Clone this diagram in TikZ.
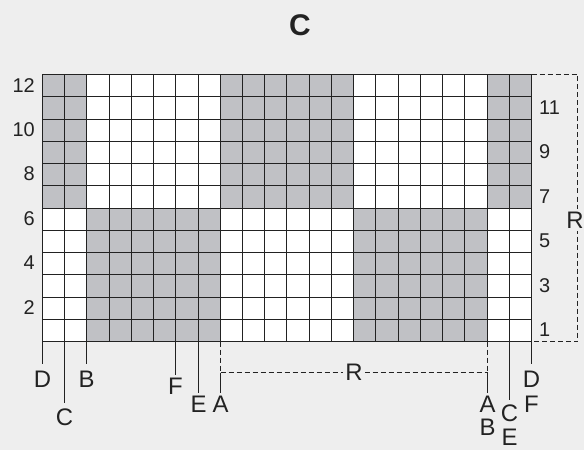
\documentclass[tikz,border=0pt]{standalone}
\usepackage{fontspec}
\setmainfont{Liberation Sans}
\usetikzlibrary{calc}
\definecolor{bg}{HTML}{EEEEEE}
\definecolor{cellgray}{HTML}{C0C1C5}
\definecolor{ink}{HTML}{222222}
\begin{document}
\begin{tikzpicture}[x=1bp,y=-1bp,
  gridline/.style={ink,line width=1.6bp},
  tick/.style={ink,line width=1.3bp},
  dashline/.style={ink,line width=1.2bp,dash pattern=on 5bp off 3bp},
  lab/.style={text=ink,font=\fontsize{24}{24}\selectfont,inner sep=0pt},
  num/.style={text=ink,font=\fontsize{20}{20}\selectfont,inner sep=0pt},
  ttl/.style={text=ink,font=\fontsize{30}{30}\selectfont\bfseries,inner sep=0pt},
]
\fill[bg] (0,0) rectangle (584,450);
\useasboundingbox (0,0) rectangle (584,450);
\def\cw{22.227}
\def\ch{22.25}
% snapped column / row positions
\foreach \i in {0,...,22}{
  \pgfmathsetmacro\xx{round(42+\i*\cw)+0.5}
  \coordinate (X\i) at (\xx,0);
}
\foreach \j in {0,...,12}{
  \pgfmathsetmacro\yy{round(74+\j*\ch)+0.5}
  \coordinate (Y\j) at (0,\yy);
}
% cells
\fill[white] (X0|-Y0) rectangle (X22|-Y12);
\fill[cellgray] (X0|-Y0) rectangle (X2|-Y6);
\fill[cellgray] (X8|-Y0) rectangle (X14|-Y6);
\fill[cellgray] (X20|-Y0) rectangle (X22|-Y6);
\fill[cellgray] (X2|-Y6) rectangle (X8|-Y12);
\fill[cellgray] (X14|-Y6) rectangle (X20|-Y12);
% grid lines
\foreach \i in {0,...,22}{
  \draw[gridline] (X\i|-Y0) -- (X\i|-Y12);
}
\foreach \j in {0,...,12}{
  \draw[gridline] (X0|-Y\j) -- (X22|-Y\j);
}
% title
\node[ttl] (title) at (300,25) {C};
% row numbers
\foreach \r in {2,4,...,12}{
  \node[num,anchor=east] (rl\r) at (35,{341-(\r-0.5)*\ch}) {\r};
}
\foreach \r in {1,3,...,11}{
  \node[num,anchor=west] (rr\r) at (539,{341-(\r-0.5)*\ch}) {\r};
}
% bottom tick coordinates
\coordinate (tD1) at (X0|-Y12);
\coordinate (tC1) at (X1|-Y12);
\coordinate (tB1) at (X2|-Y12);
\coordinate (tF1) at (X6|-Y12);
\coordinate (tE1) at (X7|-Y12);
\coordinate (tA1) at (X8|-Y12);
\coordinate (tA2) at (X20|-Y12);
\coordinate (tC2) at (X21|-Y12);
\coordinate (tD2) at (X22|-Y12);
% labels
\node[lab] (lD1) at ($(tD1)+(0,38)$) {D};
\node[lab] (lC1) at ($(tC1)+(0,76)$) {C};
\node[lab] (lB1) at ($(tB1)+(0,38)$) {B};
\node[lab] (lF1) at ($(tF1)+(0,45)$) {F};
\node[lab] (lE1) at ($(tE1)+(0,63)$) {E};
\node[lab] (lA1) at ($(tA1)+(0,63)$) {A};
\node[lab] (lA2) at ($(tA2)+(0,63)$) {A};
\node[lab] (lB2) at ($(tA2)+(0,86)$) {B};
\node[lab] (lC2) at ($(tC2)+(0,72)$) {C};
\node[lab] (lE2) at ($(tC2)+(0,95.5)$) {E};
\node[lab] (lD2) at ($(tD2)+(0,38)$) {D};
\node[lab] (lF2) at ($(tD2)+(0,63)$) {F};
% ticks
\draw[tick] (tD1) -- ++(0,22);
\draw[tick] (tC1) -- ++(0,61);
\draw[tick] (tB1) -- ++(0,22);
\draw[tick] (tF1) -- ++(0,33);
\draw[tick] (tE1) -- ++(0,51);
\draw[tick] (tC2) -- ++(0,58);
\draw[tick] (tD2) -- ++(0,22);
\coordinate (mA1) at ($(tA1)+(0,31)$);
\coordinate (mA2) at ($(tA2)+(0,31)$);
\draw[dashline] (tA1) -- (mA1);
\draw[dashline] (tA2) -- (mA2);
\draw[tick] (mA1) -- ++(0,20);
\draw[tick] (mA2) -- ++(0,20);
% repeat R (bottom)
\draw[dashline] (mA1) -- (mA2);
\node[lab,fill=bg,inner xsep=2bp,inner ysep=1bp] (Rb) at ($(mA1)!0.5!(mA2)$) {R};
% repeat R (right)
\coordinate (rTop) at (X22|-Y0);
\coordinate (rTopR) at (577.5,0 |- Y0);
\coordinate (rBotR) at (577.5,0 |- Y12);
\coordinate (rBot) at (X22|-Y12);
\draw[dashline] (rTop) -- (rTopR) -- (rBotR) -- (rBot);
\node[lab,fill=bg,inner xsep=1bp,inner ysep=3bp] (Rr) at (575,220) {R};
\end{tikzpicture}
\end{document}
